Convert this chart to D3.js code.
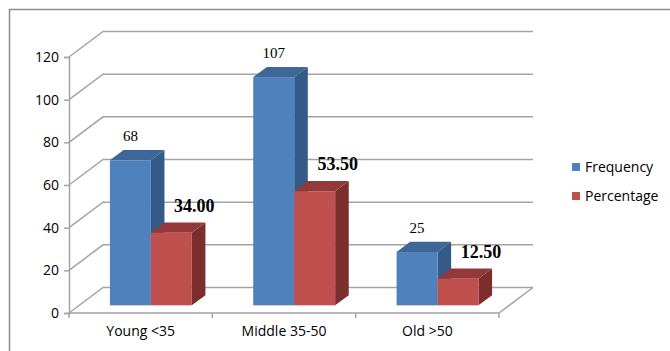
<!DOCTYPE html>
<html>
<head>
<meta charset="utf-8">
<script src="https://cdn.jsdelivr.net/npm/d3@7"></script>
<style>
  body { margin: 0; background: #fff; }
  svg { display: block; }
  .tick text { font-family: 'Open Sans', Arial, sans-serif; font-size: 14px; fill: #000; }
</style>
</head>
<body>
<svg width="670" height="351"></svg>
<script>
var svg = d3.select('svg');

// chart data
var categories = ['Young <35', 'Middle 35-50', 'Old >50'];
var seriesNames = ['Frequency', 'Percentage'];
var frequency = [68, 107, 25];
var percentage = [34.00, 53.50, 12.50];
var yTicks = [0, 20, 40, 60, 80, 100, 120];

var colors = {
    Frequency: {front: '#4f81bd', side: '#345a88', top: '#3d6798'},
    Percentage: {front: '#c0504d', side: '#7b2e2c', top: '#93393a'}
};

// plot geometry (front plane) and 3D depth
var plot = {l: 69, r: 499, t: 57, b: 313};
var DX = 34, DY = -25.5;

var x = d3.scaleBand().domain(categories).range([plot.l, plot.r]);
var xs = d3.scaleBand().domain(seriesNames).range([0, x.bandwidth()]).paddingOuter(0.75);
var y = d3.scaleLinear().domain([0, 120]).range([plot.b, plot.t]);

// outer frame
svg.append('rect')
    .attr('x', 9.5).attr('y', 9.5)
    .attr('width', 700).attr('height', 400)
    .style('fill', 'none')
    .style('stroke', '#8c8c8c')
    .style('stroke-width', 1.5);

// walls: side diagonals + back gridlines
var grid = svg.append('g').attr('class', 'grid');
grid.selectAll('path.gl')
    .data(yTicks)
    .enter().append('path')
    .attr('class', 'gl')
    .attr('d', function(t){
        var yy = y(t);
        return 'M' + plot.l + ',' + yy + 'L' + (plot.l + DX) + ',' + (yy + DY) +
               'L' + (plot.r + DX) + ',' + (yy + DY);
    })
    .style('fill', 'none')
    .style('stroke', '#a3a3a3')
    .style('stroke-width', 1.5);

// floor front + right edge
grid.append('path')
    .attr('d', 'M' + plot.l + ',' + y(0) + 'L' + plot.r + ',' + y(0) +
               'L' + (plot.r + DX) + ',' + (y(0) + DY))
    .style('fill', 'none')
    .style('stroke', '#a3a3a3')
    .style('stroke-width', 1.5);

// y axis
var yAxis = svg.append('g')
    .attr('transform', 'translate(' + plot.l + ',0)')
    .call(d3.axisLeft(y).tickValues(yTicks).tickSize(5).tickPadding(5));
yAxis.select('.domain').style('stroke', '#a3a3a3').style('stroke-width', 1.5);
yAxis.selectAll('.tick line').style('stroke', '#a3a3a3').style('stroke-width', 1.5);

// x axis
var xAxis = svg.append('g')
    .attr('transform', 'translate(0,' + plot.b + ')')
    .call(d3.axisBottom(x).tickSize(0).tickPadding(13));
xAxis.select('.domain').remove();
svg.selectAll('line.xtick')
    .data(d3.range(categories.length + 1))
    .enter().append('line')
    .attr('class', 'xtick')
    .attr('x1', function(i){ return plot.l + i * x.step(); })
    .attr('x2', function(i){ return plot.l + i * x.step(); })
    .attr('y1', plot.b).attr('y2', plot.b + 5)
    .style('stroke', '#a3a3a3')
    .style('stroke-width', 1.5);

// bars
var bars = [];
categories.forEach(function(c, i){
    bars.push({cat: c, series: 'Frequency', value: frequency[i]});
    bars.push({cat: c, series: 'Percentage', value: percentage[i]});
});

var offX = DX * 0.3, offY = DY * 0.3;   // bars sit 30% into the depth
var bdx = DX * 0.4, bdy = DY * 0.4;     // bar depth 40%

var barG = svg.append('g').selectAll('g')
    .data(bars)
    .enter().append('g')
    .attr('transform', 'translate(' + offX + ',' + offY + ')');

barG.each(function(d){
    var g = d3.select(this);
    var x0 = x(d.cat) + xs(d.series);
    var x1 = x0 + xs.bandwidth();
    var y0 = y(d.value), yb = y(0);
    var col = colors[d.series];
    g.append('path')
        .attr('d', 'M' + x1 + ',' + yb + 'L' + (x1 + bdx) + ',' + (yb + bdy) +
                   'L' + (x1 + bdx) + ',' + (y0 + bdy) + 'L' + x1 + ',' + y0 + 'Z')
        .style('fill', col.side);
    g.append('path')
        .attr('d', 'M' + x0 + ',' + y0 + 'L' + (x0 + bdx) + ',' + (y0 + bdy) +
                   'L' + (x1 + bdx) + ',' + (y0 + bdy) + 'L' + x1 + ',' + y0 + 'Z')
        .style('fill', col.top);
    g.append('rect')
        .attr('x', x0).attr('y', y0)
        .attr('width', x1 - x0).attr('height', yb - y0)
        .style('fill', col.front);
});

// data labels
barG.filter(function(d){ return d.series === 'Frequency'; })
    .append('text')
    .attr('x', function(d){ return x(d.cat) + xs(d.series) + xs.bandwidth() / 2; })
    .attr('y', function(d){ return y(d.value) - 19; })
    .attr('text-anchor', 'middle')
    .style('font-family', "'Liberation Serif', 'Times New Roman', serif")
    .style('font-size', '15px')
    .text(function(d){ return d.value; });

barG.filter(function(d){ return d.series === 'Percentage'; })
    .append('text')
    .attr('x', function(d){ return x(d.cat) + xs(d.series) + xs.bandwidth() / 2 + 23; })
    .attr('y', function(d){ return y(d.value) - 21; })
    .attr('text-anchor', 'middle')
    .style('font-family', "'Liberation Serif', 'Times New Roman', serif")
    .style('font-size', '18px')
    .style('font-weight', 'bold')
    .text(function(d){ return d.value.toFixed(2); });

// legend
var legend = svg.append('g')
    .selectAll('g')
    .data(seriesNames)
    .enter().append('g')
    .attr('transform', function(d, i){ return 'translate(572,' + (163 + i * 29) + ')'; });
legend.append('rect')
    .attr('width', 8).attr('height', 8)
    .style('fill', function(d){ return colors[d].front; });
legend.append('text')
    .attr('x', 13).attr('y', 9)
    .style('font-family', "'Open Sans', Arial, sans-serif")
    .style('font-size', '14px')
    .text(function(d){ return d; });
</script>
</body>
</html>
